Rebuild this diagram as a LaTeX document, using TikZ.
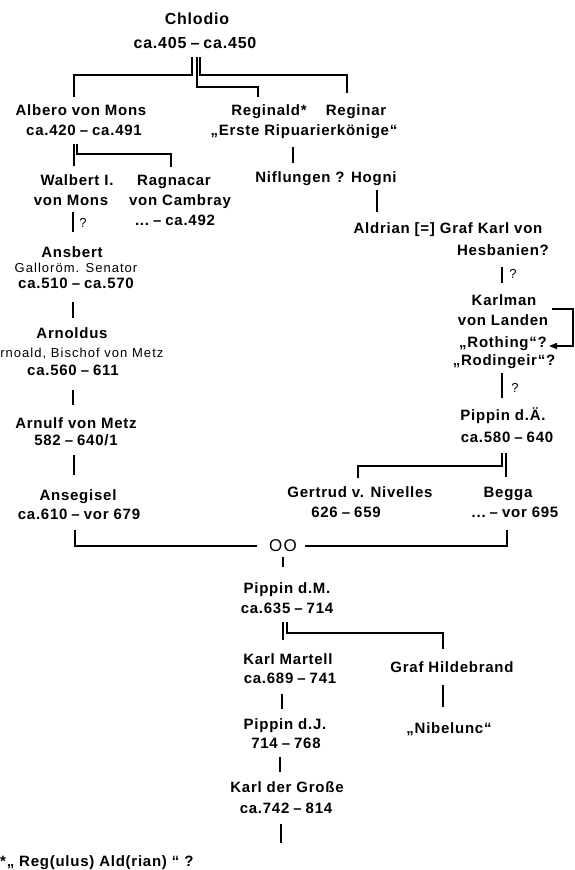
\documentclass[tikz,border=0pt]{standalone}
\usepackage{fontspec}
\setmainfont{Liberation Sans}
\newfontfamily\nmf{Liberation Sans}[LetterSpace=5]
\newfontfamily\smf{Liberation Sans}[LetterSpace=8]
\usetikzlibrary{arrows.meta}
\newcommand{\mydash}{\kern4pt–\kern4pt}
\tikzset{
  nm/.style={font=\nmf\bfseries\fontsize{15}{17}\selectfont, inner sep=0, anchor=base},
  big/.style={nm, font=\nmf\bfseries\fontsize{16}{18}\selectfont},
  sm/.style={font=\smf\fontsize{13}{15}\selectfont, inner sep=0, anchor=base},
  ln/.style={line width=1.6pt, line cap=butt, line join=miter},
}
\begin{document}
\begin{tikzpicture}[x=1pt, y=-1pt]
\useasboundingbox (0,0) rectangle (574,870);
% ---- text nodes ----
\node[big] (chlodio)  at (197,24) {Chlodio};
\node[big] (chlodioD) at (195,48) {ca.405\mydash ca.450};
\node[nm] (albero)  at (81,115.5) {Albero von Mons};
\node[nm] (alberoD) at (84,135.5) {ca.420\mydash ca.491};
\node[nm] (reginald) at (269,115.5) {Reginald*};
\node[nm] (reginar)  at (356,115.5) {Reginar};
\node[nm] (ripu)     at (304,135.5) {„Erste Ripuarierkönige“};
\node[nm] (nifl)     at (326,182.5) {Niflungen ? Hogni};
\node[nm] (walbert)  at (77,185.5) {Walbert I.};
\node[nm] (walbertB) at (71,205.5) {von Mons};
\node[nm] (ragnacar)  at (174,185.5) {Ragnacar};
\node[nm] (ragnacarB) at (180,205.5) {von Cambray};
\node[nm] (ragnacarD) at (175,225.5) {...\mydash ca.492};
\node[sm] (q1) at (83,227) {?};
\node[nm] (ansbert)  at (72,257.5) {Ansbert};
\node[sm] (ansbertT) at (76,272) {Galloröm. Senator};
\node[nm] (ansbertD) at (76,288.5) {ca.510\mydash ca.570};
\node[nm] (arnoldus)  at (72,338.5) {Arnoldus};
\node[sm] (arnoaldT)  at (77,357) {Arnoald, Bischof von Metz};
\node[nm] (arnoldusD) at (73,375.5) {ca.560\mydash 611};
\node[nm] (arnulf)  at (76,428.5) {Arnulf von Metz};
\node[nm] (arnulfD) at (76,445.5) {582\mydash 640/1};
\node[nm] (ansegisel)  at (78,500.5) {Ansegisel};
\node[nm] (ansegiselD) at (79,519.5) {ca.610\mydash vor 679};
\node[font=\smf\fontsize{17}{19}\selectfont, inner sep=0, anchor=base] (oo) at (283,551) {OO};
\node[nm] (pippinM)  at (287,593.5) {Pippin d.M.};
\node[nm] (pippinMD) at (287,613.5) {ca.635\mydash 714};
\node[nm] (karlM)  at (288,664.5) {Karl Martell};
\node[nm] (karlMD) at (290,683.5) {ca.689\mydash 741};
\node[nm] (pippinJ)  at (285,729.5) {Pippin d.J.};
\node[nm] (pippinJD) at (286,748.5) {714\mydash 768};
\node[nm] (karlG)  at (287,792.5) {Karl der Große};
\node[nm] (karlGD) at (286,813.5) {ca.742\mydash 814};
\node[nm] (hildebrand) at (452,672.5) {Graf Hildebrand};
\node[nm] (nibelunc)   at (449,733.5) {„Nibelunc“};
\node[nm, anchor=base west] (foot) at (0,866) {*„ Reg(ulus) Ald(rian) “ ?};
\node[nm] (aldrian) at (448,233.5) {Aldrian [=] Graf Karl von};
\node[nm] (hesb)    at (503,255.5) {Hesbanien?};
\node[sm] (q2) at (513,278) {?};
\node[nm] (karlman)   at (504,305.5) {Karlman};
\node[nm] (landen)    at (503,325.5) {von Landen};
\node[nm] (rothing)   at (503,347.5) {„Rothing“?};
\node[nm] (rodingeir) at (504,365.5) {„Rodingeir“?};
\node[sm] (q3) at (515,392) {?};
\node[nm] (pippinA)  at (503,420.5) {Pippin d.Ä.};
\node[nm] (pippinAD) at (507,442.5) {ca.580\mydash 640};
\node[nm] (gertrud)  at (360,497.5) {Gertrud v. Nivelles};
\node[nm] (gertrudD) at (346,517.5) {626\mydash 659};
\node[nm] (begga)    at (508,497.5) {Begga};
\node[nm] (beggaD)   at (515,517.5) {...\mydash vor 695};
% ---- connector end points ----
\coordinate (chA) at (192,57); \coordinate (chAk) at (192,75); \coordinate (alT) at (74,97);
\coordinate (chB) at (197,57); \coordinate (chBk) at (197,87); \coordinate (rgT) at (258,97);
\coordinate (chC) at (200,57); \coordinate (chCk) at (200,75); \coordinate (rnT) at (347,93);
\coordinate (alA) at (74,144); \coordinate (waT) at (74,166);
\coordinate (alB) at (77,144); \coordinate (alBk) at (77,154); \coordinate (raT) at (171,167);
\coordinate (rgB) at (293,147); \coordinate (niT) at (293,163);
\coordinate (hoB) at (377,190); \coordinate (adT) at (377,212);
\coordinate (waB) at (73,212); \coordinate (anT) at (73,232);
\coordinate (anB) at (73,302); \coordinate (arT) at (73,318);
\coordinate (arB) at (73,390); \coordinate (auT) at (73,405);
\coordinate (auB) at (74,455); \coordinate (asT) at (74,475);
\coordinate (asB) at (75,530); \coordinate (ooL) at (257,546);
\coordinate (bgB) at (507,530); \coordinate (ooR) at (305,546);
\coordinate (ooB) at (283,557); \coordinate (pmT) at (283,567);
\coordinate (pmA) at (283,622); \coordinate (kmT) at (283,640);
\coordinate (pmB) at (287,622); \coordinate (pmBk) at (287,633); \coordinate (hiT) at (443,649);
\coordinate (kmB) at (282,694); \coordinate (pjT) at (282,709);
\coordinate (pjB) at (280,757); \coordinate (kgT) at (280,772);
\coordinate (kgB) at (281,824); \coordinate (kgE) at (281,843);
\coordinate (hiB) at (443,685); \coordinate (nbT) at (443,707);
\coordinate (hsB) at (502,267); \coordinate (kaT) at (502,283);
\coordinate (kaR) at (552,309); \coordinate (kaC) at (573,309); \coordinate (roR) at (549,346);
\coordinate (kaB) at (502,373); \coordinate (paT) at (502,398);
\coordinate (paA) at (502,453); \coordinate (paAk) at (502,466); \coordinate (geT) at (358,478);
\coordinate (paB) at (506,453); \coordinate (beT) at (506,477);
% ---- connectors ----
\draw[ln] (chA) -- (chAk) -| (alT);
\draw[ln] (chB) -- (chBk) -| (rgT);
\draw[ln] (chC) -- (chCk) -| (rnT);
\draw[ln] (alA) -- (waT);
\draw[ln] (alB) -- (alBk) -| (raT);
\draw[ln] (rgB) -- (niT);
\draw[ln] (hoB) -- (adT);
\draw[ln] (waB) -- (anT);
\draw[ln] (anB) -- (arT);
\draw[ln] (arB) -- (auT);
\draw[ln] (auB) -- (asT);
\draw[ln] (asB) |- (ooL);
\draw[ln] (bgB) |- (ooR);
\draw[ln] (ooB) -- (pmT);
\draw[ln] (pmA) -- (kmT);
\draw[ln] (pmB) -- (pmBk) -| (hiT);
\draw[ln] (kmB) -- (pjT);
\draw[ln] (pjB) -- (kgT);
\draw[ln] (kgB) -- (kgE);
\draw[ln] (hiB) -- (nbT);
\draw[ln] (hsB) -- (kaT);
\draw[ln, -{Triangle[length=8pt,width=6pt]}] (kaR) -- (kaC) |- (roR);
\draw[ln] (kaB) -- (paT);
\draw[ln] (paA) -- (paAk) -| (geT);
\draw[ln] (paB) -- (beT);
\end{tikzpicture}
\end{document}
